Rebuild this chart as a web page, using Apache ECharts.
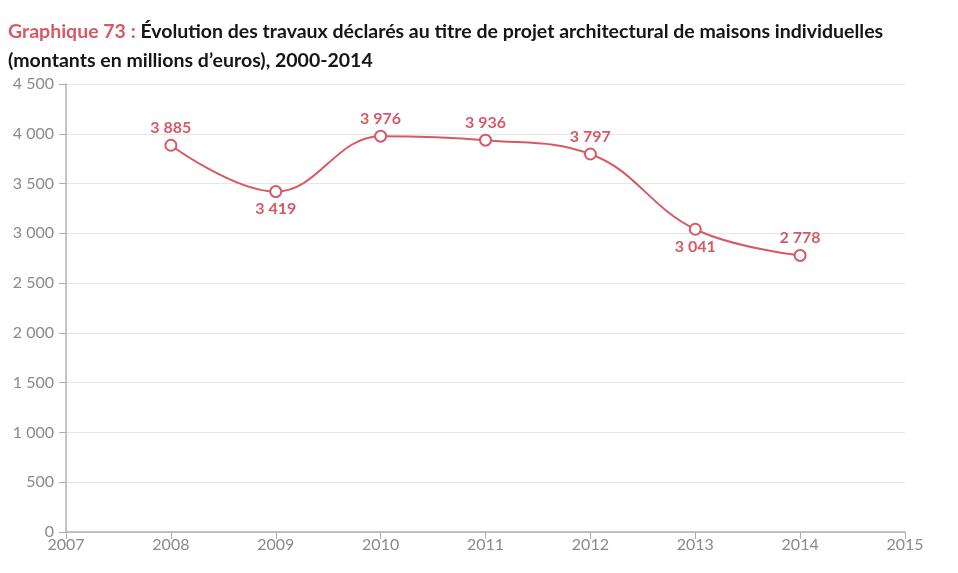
<!DOCTYPE html>
<html>
<head>
<meta charset="utf-8">
<script src="https://cdn.jsdelivr.net/npm/echarts@6/dist/echarts.min.js"></script>
<style>html,body{margin:0;padding:0;background:#fff}#c{width:958px;height:573px}</style>
</head>
<body>
<div id="c"></div>
<script>
var years = [2008, 2009, 2010, 2011, 2012, 2013, 2014];
var values = [3885, 3419, 3976, 3936, 3797, 3041, 2778];
var labelPos = ['top', 'bottom', 'top', 'top', 'top', 'bottom', 'top'];
var yTicks = [0, 500, 1000, 1500, 2000, 2500, 3000, 3500, 4000, 4500];

var RED = '#d65a66';
function fmt(v){ return String(v).replace(/\B(?=(\d{3})+(?!\d))/g, ' '); }

var chart = echarts.init(document.getElementById('c'));
chart.setOption({
  animation: false,
  title: {
    left: 3, top: 12,
    text: '{r|Graphique 73 : }{b|Évolution des travaux déclarés au titre de projet architectural de maisons individuelles}\n{b|(montants en millions d’euros), 2000-2014}',
    textStyle: {
      lineHeight: 29,
      rich: {
        r: {fontFamily: 'Lato', fontWeight: 'bold', fontSize: 19.5, color: RED, lineHeight: 29},
        b: {fontFamily: 'Lato', fontWeight: 'bold', fontSize: 19.5, color: '#151515', lineHeight: 29}
      }
    }
  },
  grid: {left: 66, right: 53, top: 84, bottom: 41, containLabel: false},
  xAxis: {
    type: 'value', min: 2007, max: 2015, interval: 1,
    axisLine: {show: true, lineStyle: {color: '#b0b0b0', width: 1.5}},
    axisTick: {show: true, length: 7, lineStyle: {color: '#b0b0b0'}},
    axisLabel: {color: '#8a8a8a', fontFamily: 'Lato', fontSize: 16, margin: 5, formatter: function(v){return String(v);}},
    splitLine: {show: false}
  },
  yAxis: {
    type: 'value', min: 0, max: 4500, interval: 500,
    axisLine: {show: true, lineStyle: {color: '#b0b0b0', width: 1.5}},
    axisTick: {show: true, length: 7, lineStyle: {color: '#b0b0b0'}},
    axisLabel: {color: '#8a8a8a', fontFamily: 'Lato', fontSize: 16, margin: 12, formatter: function(v){return fmt(v);}},
    splitLine: {show: true, lineStyle: {color: '#e6e6e6', width: 1}}
  },
  series: [{
    type: 'line',
    smooth: 0.4,
    data: years.map(function(y, i){
      return {value: [y, values[i]], label: {position: labelPos[i]}};
    }),
    symbol: 'circle', symbolSize: 11,
    itemStyle: {color: '#fff', borderColor: RED, borderWidth: 2},
    lineStyle: {color: RED, width: 2},
    label: {
      show: true, color: RED, fontFamily: 'Lato', fontWeight: 'bold', fontSize: 16, distance: 3,
      formatter: function(p){ return fmt(p.value[1]); }
    }
  }]
});
</script>
</body>
</html>
